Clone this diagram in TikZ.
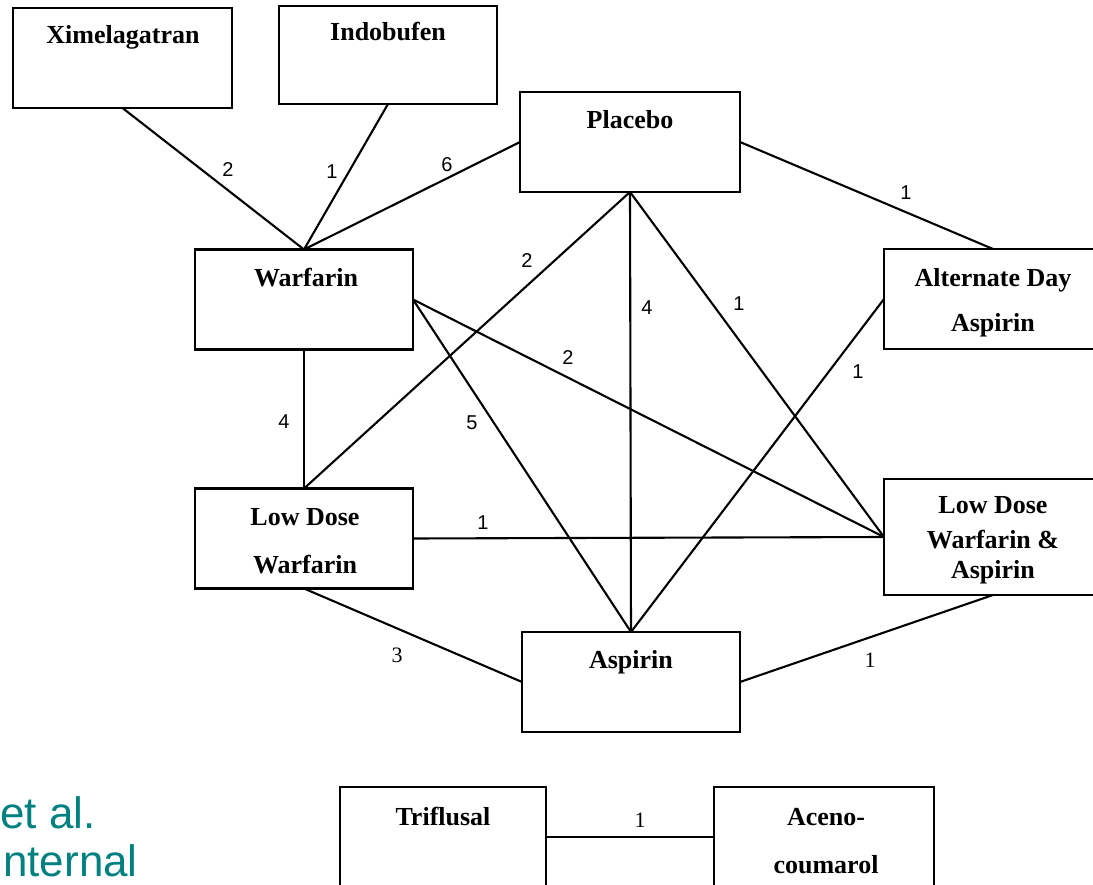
\documentclass[tikz,border=0pt]{standalone}
\usepackage{fontspec}
\setmainfont{Liberation Serif}
\newfontfamily\numsans{Liberation Sans}
\definecolor{tealtxt}{RGB}{0,128,128}
\begin{document}
\begin{tikzpicture}[x=1pt, y=-1pt,
  box/.style={draw, line width=2.4pt, minimum width=218pt, minimum height=100pt, inner sep=0pt, outer sep=0pt},
  edge/.style={line width=2.1pt},
  nm/.style={font=\fontsize{26}{30}\selectfont\bfseries, anchor=base, inner sep=0pt},
  num/.style={font=\numsans\fontsize{20}{24}\selectfont, inner sep=0pt},
  numserif/.style={font=\fontsize{22}{26}\selectfont, inner sep=0pt},
  side/.style={font=\numsans\fontsize{44}{50}\selectfont, text=tealtxt, anchor=base west, inner sep=0pt}]
\useasboundingbox (0,0) rectangle (1093,885);
\clip (0,0) rectangle (1093,885);
% boxes
\node[box, minimum width=219pt] (xim) at (122.5,58) {};
\node[box, minimum height=98pt] (indo) at (388,55) {};
\node[box, minimum width=220pt] (plac) at (630,142) {};
\node[box] (warf) at (304,299.5) {};
\node[box] (alt) at (993,299) {};
\node[box] (ldw) at (304,538.5) {};
\node[box, minimum height=116pt] (ldwa) at (993,537) {};
\node[box] (asp) at (631,682) {};
\node[box, minimum width=206pt] (trif) at (443,837) {};
\node[box, minimum width=220pt] (aceno) at (824,837) {};
% box texts
\node[nm] (ximT) at (123,44) {Ximelagatran};
\node[nm] (indoT) at (388,41) {Indobufen};
\node[nm] (placT) at (630,129) {Placebo};
\node[nm] (warfT) at (306,287) {Warfarin};
\node[nm] (altT1) at (993,287) {Alternate Day};
\node[nm] (altT2) at (993,332) {Aspirin};
\node[nm] (ldwT1) at (305,525) {Low Dose};
\node[nm] (ldwT2) at (305,573) {Warfarin};
\node[nm] (ldwaT1) at (993,513) {Low Dose};
\node[nm] (ldwaT2) at (993,548) {Warfarin \&};
\node[nm] (ldwaT3) at (993,578) {Aspirin};
\node[nm] (aspT) at (631,668) {Aspirin};
\node[nm] (trifT) at (443,825) {Triflusal};
\node[nm] (acenoT1) at (826,825) {Aceno-};
\node[nm] (acenoT2) at (826,873) {coumarol};
% connectors
\draw[edge] (xim.south) -- (warf.north);
\draw[edge] (indo.south) -- (warf.north);
\draw[edge] (plac.west) -- (warf.north);
\draw[edge] (plac.east) -- (alt.north);
\draw[edge] (plac.south) -- (ldw.north);
\draw[edge] (plac.south) -- (asp.north);
\draw[edge] (plac.south) -- (ldwa.west);
\draw[edge] (alt.west) -- (asp.north);
\draw[edge] (warf.east) -- (ldwa.west);
\draw[edge] (warf.east) -- (asp.north);
\draw[edge] (warf.south) -- (ldw.north);
\draw[edge] (ldw.east) -- (ldwa.west);
\draw[edge] (ldw.south) -- (asp.west);
\draw[edge] (asp.east) -- (ldwa.south);
\draw[edge] (trif.east) -- (aceno.west);
% numbers
\node[num] (n1) at (228,170) {2};
\node[num] (n2) at (332,172) {1};
\node[num] (n3) at (447,165) {6};
\node[num] (n4) at (906,193) {1};
\node[num] (n5) at (527,261) {2};
\node[num] (n6) at (647,308) {4};
\node[num] (n7) at (739,304) {1};
\node[num] (n8) at (858,372) {1};
\node[num] (n9) at (568,358) {2};
\node[num] (n10) at (284,422) {4};
\node[num] (n11) at (472,423) {5};
\node[num] (n12) at (483,523) {1};
\node[numserif] (n13) at (397,655) {3};
\node[numserif] (n14) at (870,660) {1};
\node[numserif] (n15) at (640,820) {1};
% side text
\node[side] (etal) at (0,828) {et al.};
\node[side] (intern) at (3,876) {nternal};
\end{tikzpicture}
\end{document}
